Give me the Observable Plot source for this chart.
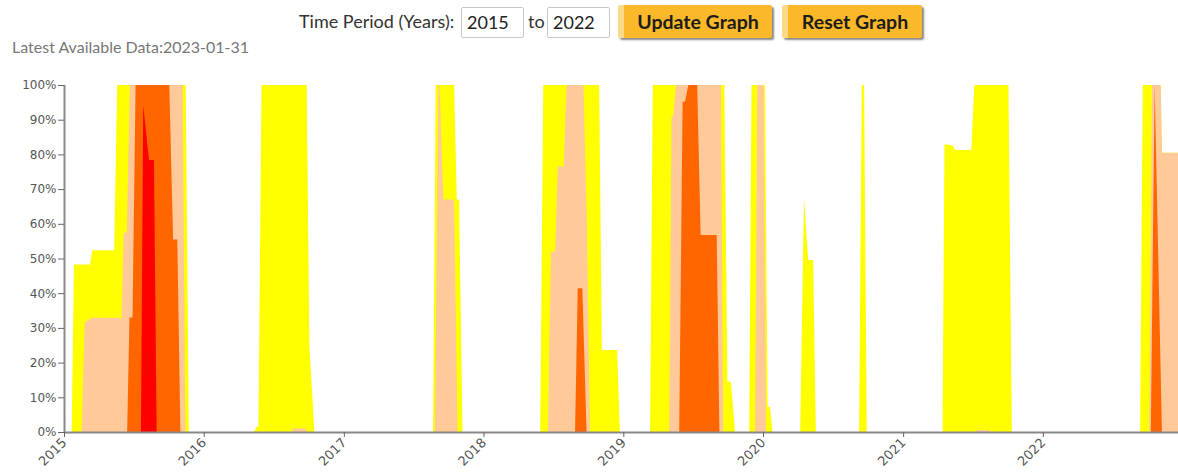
<!DOCTYPE html>
<html>
<head>
<meta charset="utf-8">
<script src="https://cdn.jsdelivr.net/npm/d3@7"></script>
<script src="https://cdn.jsdelivr.net/npm/@observablehq/plot@0.6"></script>
<style>
  html, body { margin:0; padding:0; background:#fff; overflow:hidden; width:1178px; height:472px; }
  #wrap { position:relative; width:1178px; height:472px; font-family: Lato, "Open Sans", sans-serif; }
  .abs { position:absolute; white-space:nowrap; }
  .lbl { font-size:18px; color:#333; top:10px; }
  .inp { top:7px; height:29px; width:56px; border:1px solid #c8c8c8; border-radius:2px; font-size:18px; color:#222; line-height:29px; padding-left:5px; box-sizing:content-box; }
  .btn { top:5px; height:33px; background:#fbb829; border-left:6px solid #fdd98a; box-shadow:2px 2px 2px #8a8a8a; font-weight:bold; font-size:19.5px; color:#1c1c1c; line-height:33px; text-align:center; border-radius:2px; }
  #latest { left:12px; top:37px; font-size:16px; color:#777; }
  #chart { position:absolute; left:0; top:75px; }
</style>
</head>
<body>
<div id="wrap">
  <div class="abs lbl" style="left:299px">Time Period (Years):</div>
  <div class="abs inp" style="left:461px">2015</div>
  <div class="abs lbl" style="left:528px">to</div>
  <div class="abs inp" style="left:547px">2022</div>
  <div class="abs btn" style="left:618px; width:148px">Update Graph</div>
  <div class="abs btn" style="left:782px; width:134px">Reset Graph</div>
  <div class="abs" id="latest">Latest Available Data:2023-01-31</div>
  <div id="chart"></div>
</div>
<script>
// D0 – abnormally dry (yellow)
const d0Dates = ["2015-01-01","2015-01-21","2015-01-27","2015-03-10","2015-03-16","2015-05-12","2015-05-20","2015-11-15","2015-11-23",
  "2016-05-11","2016-05-18","2016-05-23","2016-05-31","2016-09-26","2016-10-03","2016-10-16",
  "2017-08-22","2017-08-29","2017-10-16","2017-10-23","2017-10-29","2017-11-07",
  "2018-05-29","2018-06-06","2018-10-30","2018-11-06","2018-12-16","2018-12-23",
  "2019-03-12","2019-03-19","2019-09-22","2019-09-30","2019-10-09","2019-10-20",
  "2019-11-26","2019-12-02","2020-01-06","2020-01-13","2020-01-19","2020-01-26",
  "2020-04-07","2020-04-17","2020-04-28","2020-05-11","2020-05-18",
  "2020-09-08","2020-09-15","2020-09-21","2020-09-28",
  "2021-04-14","2021-04-19","2021-05-10","2021-05-17","2021-06-28","2021-07-06","2021-10-03","2021-10-12",
  "2022-09-12","2022-09-19","2022-11-05","2022-11-08","2023-01-31"];
const d0Values = [0,0,48.3,48.3,52.4,52.4,100,100,0,
  0,1.5,1.5,100,100,25,0,
  0,100,100,67,67,0,
  0,100,100,23.6,23.6,0,
  0,100,100,14.5,14.5,0,
  0,100,100,7.3,7.3,0,
  0,67.3,49.6,49.6,0,
  0,100,100,0,
  0,82.9,82.6,81.3,81.3,100,100,0,
  0,100,100,80.5,80.5];

// D1 – moderate drought (peach)
const d1Dates = ["2015-01-01","2015-02-16","2015-02-24","2015-03-14","2015-05-27","2015-05-31","2015-06-06","2015-06-14","2015-06-22","2015-11-07","2015-11-14",
  "2016-08-16","2016-08-23","2016-09-21","2016-09-28",
  "2017-08-27","2017-09-05","2017-09-08","2017-09-18","2017-10-16","2017-10-25",
  "2018-06-18","2018-06-26","2018-07-07","2018-07-14","2018-07-29","2018-08-06","2018-09-19","2018-09-28","2018-10-06",
  "2019-05-01","2019-05-07","2019-05-11","2019-05-19","2019-09-13","2019-09-19",
  "2019-12-11","2019-12-17","2020-01-02","2020-01-09",
  "2021-07-08","2021-07-15","2021-08-12","2021-08-19",
  "2022-10-06","2022-10-13","2022-11-05","2022-11-08","2023-01-31"];
const d1Values = [0,0,31.5,32.9,32.9,32.5,57.4,57.4,100,100,0,
  0,1,1,0,
  0,100,100,67,67,0,
  0,52,52,76.5,76.5,100,100,60,0,
  0,91,91,100,100,0,
  0,100,100,0,
  0,0.6,0.6,0,
  0,100,100,80.5,80.5];

// D2 – severe drought (orange)
const d2Dates = ["2015-01-01","2015-06-15","2015-06-21","2015-06-29","2015-07-07","2015-10-03","2015-10-13","2015-10-24","2015-11-01",
  "2018-08-28","2018-09-04","2018-09-16","2018-09-27",
  "2019-05-27","2019-06-05","2019-06-11","2019-06-20","2019-07-13","2019-07-22","2019-09-02","2019-09-09",
  "2022-10-10","2022-10-20","2022-11-08","2023-01-31"];
const d2Values = [0,0,33,33,100,100,55.5,55.5,0,
  0,41.4,41.4,0,
  0,95.2,95.2,100,100,56.8,56.8,0,
  0,100,0,0];

// D3 – extreme drought (red)
const d3Dates = ["2015-01-01","2015-07-21","2015-07-27","2015-08-11","2015-08-24","2015-08-31","2023-01-31"];
const d3Values = [0,0,94.2,78.4,78.4,0,0];

const yTicks = [0,10,20,30,40,50,60,70,80,90,100];
const layerColors = ["#ffff00","#ffc999","#ff6600","#ff0000"];

const toRows = (dates, values) => dates.map((d, i) => ({date: new Date(d), value: values[i]}));
const layers = [toRows(d0Dates, d0Values), toRows(d1Dates, d1Values), toRows(d2Dates, d2Values), toRows(d3Dates, d3Values)];

const x0 = new Date("2015-01-01"), x1 = new Date("2022-12-20");

const chart = Plot.plot({
  width: 1178,
  height: 397,
  marginTop: 10,
  marginBottom: 40,
  marginLeft: 64,
  marginRight: 0,
  style: {fontFamily: "DejaVu Sans, sans-serif", fontSize: "12px", color: "#555", background: "transparent"},
  x: {type: "utc", domain: [x0, x1], label: null},
  y: {domain: [0, 100], label: null},
  marks: [
    ...layers.map((rows, i) => Plot.areaY(rows, {x: "date", y: "value", fill: layerColors[i], curve: "linear", clip: true})),
    Plot.ruleY([0], {stroke: "#888", strokeWidth: 2}),
    Plot.ruleX([x0], {stroke: "#888", strokeWidth: 2}),
    Plot.axisY({ticks: yTicks, tickFormat: d => d + "%", tickSize: 6, tickPadding: 2, stroke: "#666", label: null}),
    Plot.axisX({ticks: "year", tickFormat: d3.utcFormat("%Y"), tickRotate: -45, tickSize: 5, tickPadding: 3, stroke: "#666", fontSize: 13, label: null})
  ]
});
document.getElementById("chart").appendChild(chart);
</script>
</body>
</html>
